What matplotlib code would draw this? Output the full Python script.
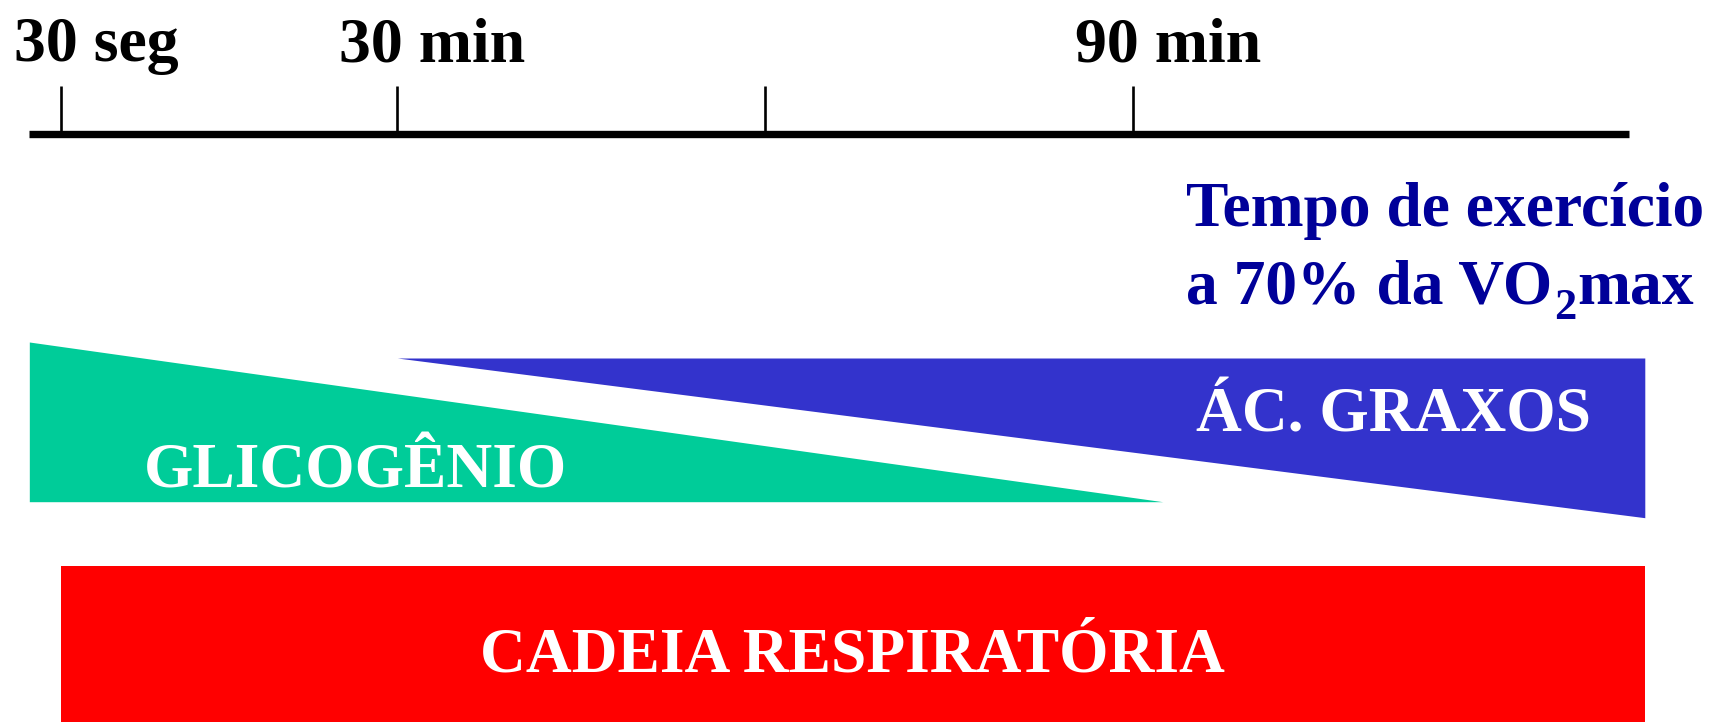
import matplotlib
matplotlib.use("Agg")
import matplotlib.pyplot as plt
import numpy as np

# --- timeline (minutes of exercise at 70% VO2max, schematic) ---
tick_pos = [2.6, 30, 60, 90]
tick_labels = ["30 seg", "30 min", "", "90 min"]
timeline_end = 130.4

# --- relative contribution of each substrate along the timeline ---
glyco_t = [0.0, 92.4]
glyco_share = [1.0, 0.0]
fat_t = [30.0, 131.7]
fat_share = [0.0, 1.0]
resp_t = [2.6, 131.7]

GREEN = "#00CC99"
BLUE = "#3333CC"
RED = "#FF0000"
NAVY = "#000099"

plt.rcParams["font.family"] = ["Liberation Serif", "DejaVu Serif"]
plt.rcParams["font.weight"] = "bold"

W, H = 1726, 722
fig = plt.figure(figsize=(W / 100, H / 100), dpi=100)
ax = fig.add_axes([0, 0, 1, 1])
ax.set_xlim(-2.39, 138.32)
ax.set_ylim(H, 0)
ax.axis("off")

# layout of the bands (vertical, in figure pixels)
axis_y = 134
tick_top = 86
band_h = 159.7
glyco_base = 501.7
fat_top = 358.0
resp_top = 566.0

# time axis
ax.plot([0, timeline_end], [axis_y, axis_y], color="black", lw=5.3,
        solid_capstyle="butt")
ax.vlines(tick_pos, tick_top, axis_y, color="black", lw=1.9)
for x, lab in zip(tick_pos, tick_labels):
    if lab:
        ax.annotate(lab, (x, 61), xytext=(25, 0), textcoords="offset points",
                    ha="center", va="baseline", fontsize=46,
                    fontweight="bold", color="black")

# glycogen wedge (thick at start, vanishing near 90 min)
gs = np.array(glyco_share)
ax.fill_between(glyco_t, glyco_base - band_h * gs, glyco_base,
                color=GREEN, lw=0)
# fatty acid wedge (growing from 30 min)
fs = np.array(fat_share)
ax.fill_between(fat_t, fat_top, fat_top + band_h * fs, color=BLUE, lw=0)
# respiratory chain, active throughout
ax.fill_between(resp_t, resp_top, H + 5, color=RED, lw=0)

txt = dict(fontsize=45.7, fontweight="bold", color="white", va="baseline",
           ha="center")
ax.text(26.6, 488, "GLICOGÊNIO", **txt)
ax.text(111.2, 431, "ÁC. GRAXOS", **txt)
ax.text(67.1, 671, "CADEIA RESPIRATÓRIA", **txt)

blue = dict(fontsize=45.7, fontweight="bold", color=NAVY, va="baseline",
            ha="left")
ax.text(94.3, 226, "Tempo de exercício", **blue)
line2_y = 303
t1 = ax.text(94.3, line2_y, "a 70% da VO", **blue)
t2 = ax.annotate("2", xy=(1, line2_y + 16), xycoords=(t1, "data"),
                 xytext=(1, 0), textcoords="offset points",
                 fontsize=32, fontweight="bold", color=NAVY,
                 va="baseline", ha="left")
ax.annotate("max", xy=(1, line2_y), xycoords=(t2, "data"),
            xytext=(1, 0), textcoords="offset points",
            fontsize=45.7, fontweight="bold", color=NAVY,
            va="baseline", ha="left")

fig.savefig("out.png", dpi=100)
